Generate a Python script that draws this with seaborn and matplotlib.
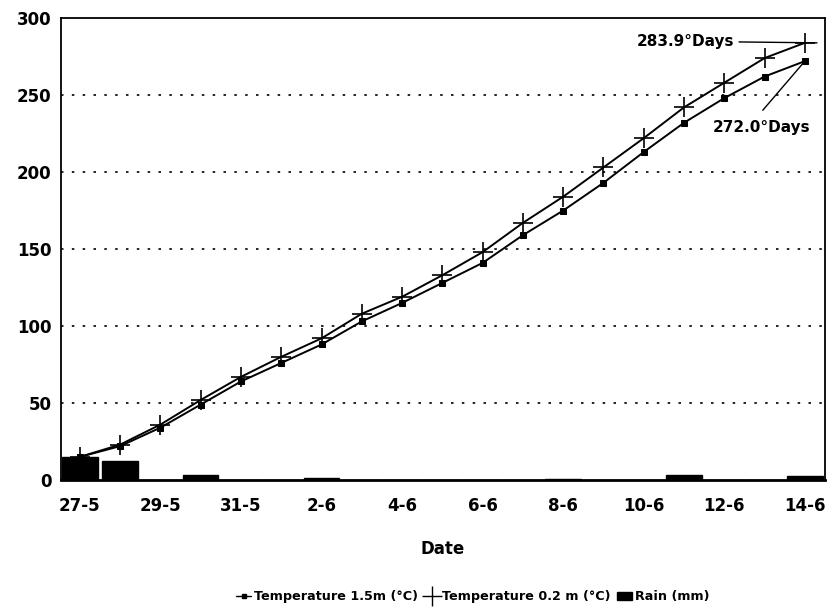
import matplotlib
matplotlib.use("Agg")
import matplotlib.pyplot as plt
from matplotlib.lines import Line2D
from matplotlib.patches import Patch
import seaborn as sns
import numpy as np
import pandas as pd

dates = ['27-5', '28-5', '29-5', '30-5', '31-5', '1-6', '2-6', '3-6', '4-6', '5-6',
         '6-6', '7-6', '8-6', '9-6', '10-6', '11-6', '12-6', '13-6', '14-6']
temp_15 = [15, 22, 34, 49, 64, 76, 88, 103, 115, 128, 141, 159, 175, 193, 213, 232, 248, 262, 272.0]
temp_02 = [15, 23, 36, 52, 67, 80, 92, 108, 119, 133, 148, 167, 184, 203, 222, 242, 258, 274, 283.9]
rain = [15, 12.5, 0, 3, 0, 0, 1.5, 0, 0, 0, 0, 0, 0.5, 0, 0, 3, 0, 0, 2.5]
tick_labels = ['27-5', '29-5', '31-5', '2-6', '4-6', '6-6', '8-6', '10-6', '12-6', '14-6']
y_ticks = [0, 50, 100, 150, 200, 250, 300]

sns.set_theme(style="white")
plt.rcParams['font.family'] = ['DejaVu Sans']
plt.rcParams['font.weight'] = 'bold'
plt.rcParams['text.color'] = 'black'
plt.rcParams['axes.labelcolor'] = 'black'

df = pd.DataFrame({'date': dates, 'idx': np.arange(len(dates)),
                   't15': temp_15, 't02': temp_02, 'rain': rain})

fig = plt.figure(figsize=(8.32, 6.11), dpi=100)
ax = fig.add_axes([0.0733, 0.2144, 0.9183, 0.7561])

sns.barplot(data=df, x='idx', y='rain', color='black', width=0.88,
            native_scale=True, ax=ax, saturation=1, edgecolor='black')
sns.lineplot(data=df, x='idx', y='t15', color='black', lw=1.4, marker='s',
             markersize=4, markeredgecolor='black', ax=ax)
sns.lineplot(data=df, x='idx', y='t02', color='black', lw=1.4, marker='+',
             markersize=14, markeredgewidth=1.2, markeredgecolor='black', ax=ax)

ax.set_xlim(-0.47, 18.5)
ax.set_ylim(0, 300)
ax.set_yticks(y_ticks)
ax.set_yticklabels([str(v) for v in y_ticks], fontsize=12, fontweight='bold')
pos = [dates.index(t) for t in tick_labels]
ax.set_xticks(pos)
ax.set_xticklabels(tick_labels, fontsize=12, fontweight='bold')
ax.tick_params(axis='y', length=0, pad=7, colors='black')
ax.tick_params(axis='x', length=0, pad=12, colors='black')

for y in y_ticks[1:-1]:
    ax.axhline(y, color='black', lw=1.2, ls=(0, (1.5, 5)), zorder=0)

for s in ax.spines.values():
    s.set_visible(True)
    s.set_color('black')
    s.set_linewidth(1.3)
ax.spines['bottom'].set_linewidth(2)

ax.set_xlabel('Date', fontsize=12, fontweight='bold', labelpad=18, color='black')
ax.set_ylabel('')

n = len(dates) - 1
ax.annotate('283.9°Days', xy=(n + 0.3, temp_02[-1]), xytext=(16.25, 284.5),
            ha='right', va='center', fontsize=11, fontweight='bold', color='black',
            arrowprops=dict(arrowstyle='-', color='black', lw=1,
                            relpos=(1, 0.5), shrinkA=1, shrinkB=0))
ax.annotate('272.0°Days', xy=(n, temp_15[-1]), xytext=(16.92, 229),
            ha='center', va='center', fontsize=11, fontweight='bold', color='black',
            arrowprops=dict(arrowstyle='-', color='black', lw=1,
                            relpos=(0.43, 1.0), shrinkA=6, shrinkB=3))

handles = [
    Line2D([0], [0], color='black', lw=1, marker='s', markersize=3),
    Line2D([0], [0], linestyle='None', marker='+', markersize=15, markeredgewidth=1,
           markeredgecolor='black'),
    Patch(facecolor='black', edgecolor='black'),
]
labels = ['Temperature 1.5m (°C)', 'Temperature 0.2 m (°C)', 'Rain (mm)']
fig.legend(handles, labels, loc='center', bbox_to_anchor=(0.568, 0.023), ncol=3,
           frameon=False, handlelength=1.2, handletextpad=0.2,
           columnspacing=0.5, prop={'weight': 'bold', 'size': 9.2},
           labelcolor='black')

fig.savefig('out.png', dpi=100)
